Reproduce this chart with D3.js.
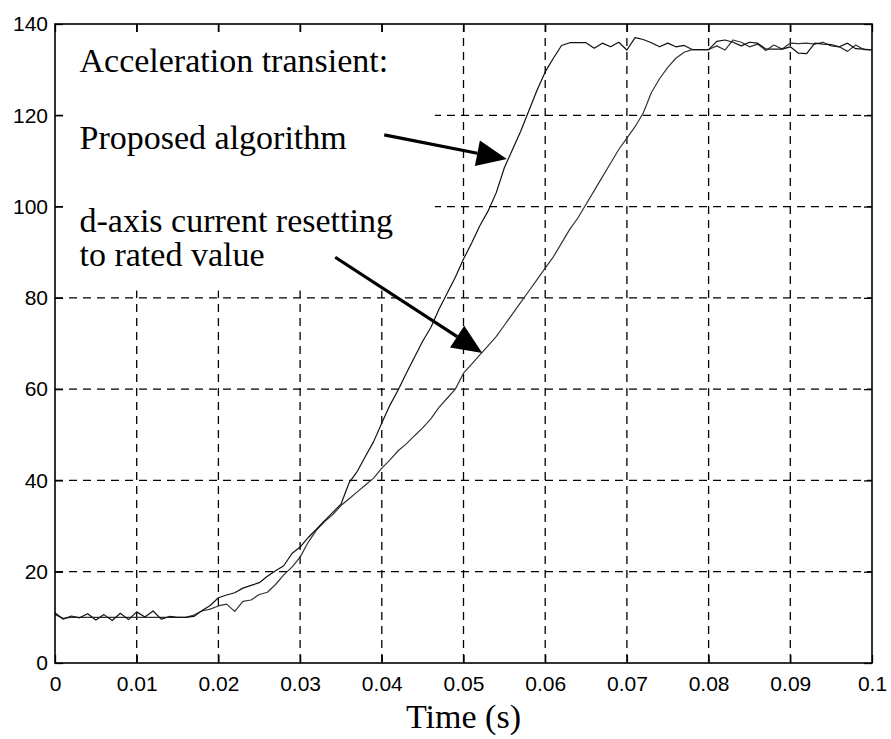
<!DOCTYPE html>
<html>
<head>
<meta charset="utf-8">
<script src="https://cdn.jsdelivr.net/npm/d3@7"></script>
<style>
  html, body { margin: 0; padding: 0; background: #fff; }
  .tick-label text { font-family: "Liberation Sans", Arial, sans-serif; font-size: 21px; fill: #000; }
  .note { font-family: "Liberation Serif", "Times New Roman", serif; font-size: 34px; fill: #000; }
</style>
</head>
<body>
<div id="app"></div>
<script>
"use strict";

// time samples (s), one every millisecond
const time = d3.range(0, 101).map(i => i / 1000);

// speed, proposed algorithm
const proposed = [
    11.0, 9.6, 10.3, 9.9, 10.8, 9.4, 10.6, 9.3, 10.9, 9.5,
    11.2, 10.1, 11.4, 9.6, 10.2, 10.0, 10.0, 10.2, 11.5, 12.6,
    14.3, 14.9, 15.4, 16.4, 17.0, 17.6, 19.0, 20.2, 21.3, 24.0,
    25.4, 27.5, 29.3, 31.2, 33.0, 34.8, 39.5, 42.0, 45.3, 48.5,
    52.6, 56.5, 59.8, 63.5, 67.0, 70.5, 73.5, 77.5, 81.0, 84.5,
    88.5, 92.0, 95.8, 99.0, 103.0, 108.5, 112.5, 116.5, 121.0, 125.5,
    129.5, 132.5, 135.3, 135.9, 135.9, 135.9, 134.7, 135.8, 135.0, 136.0,
    134.3, 137.0, 136.6, 135.9, 135.0, 135.8, 135.0, 135.3, 134.4, 134.4,
    134.4, 136.2, 136.5, 136.0, 135.2, 136.0, 135.8, 134.5, 134.5, 134.5,
    135.0, 133.6, 133.5, 135.8, 135.6, 135.5, 135.0, 135.8, 134.6, 134.5,
    134.3
];

// speed, d-axis current resetting to rated value
const resetting = [
    10.6, 9.8, 10.0, 10.0, 10.0, 10.0, 10.0, 10.0, 10.0, 10.0,
    10.0, 10.0, 10.0, 10.0, 10.0, 10.0, 10.0, 10.5, 11.4, 11.8,
    12.5, 12.9, 11.3, 13.5, 13.8, 15.0, 15.5, 17.2, 19.3, 21.0,
    23.2, 26.5, 29.1, 31.0, 32.5, 34.5, 36.0, 37.5, 39.0, 40.5,
    42.7, 44.5, 46.5, 48.0, 49.8, 51.5, 53.5, 56.0, 58.0, 60.0,
    63.5, 65.5, 67.5, 69.5, 71.5, 74.0, 76.5, 79.0, 81.5, 84.0,
    86.5, 89.0, 92.0, 95.0, 97.5, 100.5, 103.5, 106.5, 109.5, 112.5,
    115.0, 117.5, 120.5, 125.0, 128.0, 130.5, 132.5, 133.8, 134.4, 134.4,
    134.4, 135.2, 134.3, 136.5, 136.0, 135.0, 135.6, 134.2, 135.4, 134.5,
    135.8, 135.7, 135.8, 135.6, 136.0, 135.2, 135.0, 134.0, 135.4, 134.4,
    134.3
];

const xTicks = d3.range(0, 11).map(i => i / 100);
const xTickLabels = ["0", "0.01", "0.02", "0.03", "0.04", "0.05", "0.06", "0.07", "0.08", "0.09", "0.1"];
const yTicks = [0, 20, 40, 60, 80, 100, 120, 140];

// annotation text lines: [time, speed, text]
const notes = [
    [0.003, 129.5, "Acceleration transient:"],
    [0.003, 112.7, "Proposed algorithm"],
    [0.003, 94.4, "d-axis current resetting"],
    [0.003, 86.9, "to rated value"]
];
// arrows: [fromTime, fromSpeed, toTime, toSpeed]
const arrows = [
    [0.0403, 115.7, 0.0553, 110.4],
    [0.0343, 88.9, 0.0523, 67.9]
];
// white area behind the text: [t0, t1, v0, v1]
const noteBox = [0.0011, 0.0465, 81.6, 138.0];

const width = 891, height = 739;
const margin = { top: 24, right: 19, bottom: 76, left: 55 };

/**
 * Draws dashed grid lines at the inner ticks
 */
const drawGrid = (g, x, y, w, h) => {
    const grid = g.append("g")
        .attr("stroke", "#000")
        .attr("stroke-width", 1.3)
        .attr("stroke-dasharray", "8,6");
    grid.selectAll(".vx").data(xTicks.slice(1, -1)).join("line")
        .attr("x1", d => x(d)).attr("x2", d => x(d))
        .attr("y1", 0).attr("y2", h);
    grid.selectAll(".hy").data(yTicks.slice(1, -1)).join("line")
        .attr("x1", 0).attr("x2", w)
        .attr("y1", d => y(d)).attr("y2", d => y(d));
};

/**
 * Draws the axes with inward ticks on all four sides
 */
const drawAxes = (g, x, y, w, h) => {
    const fmt = (d, i) => xTickLabels[i];
    g.append("g").attr("class", "tick-label")
        .attr("transform", `translate(0,${h})`)
        .call(d3.axisBottom(x).tickValues(xTicks).tickFormat(fmt).tickSizeInner(-8).tickSizeOuter(0).tickPadding(13));
    g.append("g").attr("class", "tick-label")
        .call(d3.axisLeft(y).tickValues(yTicks).tickSizeInner(-8).tickSizeOuter(0).tickPadding(7));
    g.append("g")
        .call(d3.axisTop(x).tickValues(xTicks).tickFormat("").tickSizeInner(-8).tickSizeOuter(0));
    g.append("g")
        .attr("transform", `translate(${w},0)`)
        .call(d3.axisRight(y).tickValues(yTicks).tickFormat("").tickSizeInner(-8).tickSizeOuter(0));
    g.selectAll(".domain").remove();
    g.selectAll(".tick line").attr("stroke", "#000").attr("stroke-width", 1.3);

    g.append("rect")
        .attr("width", w).attr("height", h)
        .attr("fill", "none")
        .attr("stroke", "#000")
        .attr("stroke-width", 1.6);
};

const svg = d3.select("#app").append("svg")
    .attr("width", width)
    .attr("height", height);

const w = width - margin.left - margin.right;
const h = height - margin.top - margin.bottom;
const g = svg.append("g").attr("transform", `translate(${margin.left},${margin.top})`);

const x = d3.scaleLinear().domain([0, 0.1]).range([0, w]);
const y = d3.scaleLinear().domain([0, 140]).range([h, 0]);

drawGrid(g, x, y, w, h);

g.append("rect")
    .attr("x", x(noteBox[0])).attr("width", x(noteBox[1]) - x(noteBox[0]))
    .attr("y", y(noteBox[3])).attr("height", y(noteBox[2]) - y(noteBox[3]))
    .attr("fill", "#fff");

const line = d3.line().x((d, i) => x(time[i])).y(d => y(d));
[[resetting, "#333"], [proposed, "#111"]].forEach(([series, color]) => {
    g.append("path")
        .datum(series)
        .attr("fill", "none")
        .attr("stroke", color)
        .attr("stroke-width", 1.2)
        .attr("stroke-linejoin", "round")
        .attr("d", line);
});

drawAxes(g, x, y, w, h);

// annotations
g.selectAll(".note").data(notes).join("text")
    .attr("class", "note")
    .attr("x", d => x(d[0]))
    .attr("y", d => y(d[1]))
    .text(d => d[2]);

arrows.forEach(([t0, v0, t1, v1]) => {
    const x0 = x(t0), y0 = y(v0), x1 = x(t1), y1 = y(v1);
    const ang = Math.atan2(y1 - y0, x1 - x0);
    const len = 30, half = 13;
    const bx = x1 - len * Math.cos(ang), by = y1 - len * Math.sin(ang);
    g.append("line")
        .attr("x1", x0).attr("y1", y0).attr("x2", bx).attr("y2", by)
        .attr("stroke", "#000").attr("stroke-width", 3.2);
    const px = -Math.sin(ang) * half, py = Math.cos(ang) * half;
    g.append("path")
        .attr("d", `M${x1},${y1}L${bx + px},${by + py}L${bx - px},${by - py}Z`)
        .attr("fill", "#000");
});

// x axis title
svg.append("text")
    .attr("class", "note")
    .attr("x", margin.left + w / 2)
    .attr("y", 728)
    .attr("text-anchor", "middle")
    .text("Time (s)");
</script>
</body>
</html>
